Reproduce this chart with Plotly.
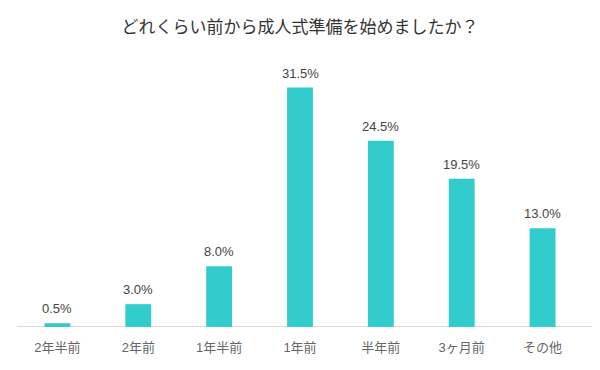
import plotly.graph_objects as go

categories = ["2年半前", "2年前", "1年半前", "1年前", "半年前", "3ヶ月前", "その他"]
values = [0.5, 3.0, 8.0, 31.5, 24.5, 19.5, 13.0]
labels = [f"{v:.1f}%" for v in values]

FONT = "Liberation Sans, Noto Sans CJK JP, sans-serif"

fig = go.Figure(go.Bar(
    x=categories, y=values,
    marker=dict(color="#33CCCC", line=dict(width=0)),
    hoverinfo="skip",
))
for c, v, t in zip(categories, values, labels):
    fig.add_annotation(x=c, y=v, text=t, showarrow=False, yanchor="bottom", yshift=5,
                       font=dict(size=13, color="#444444", family=FONT))
fig.update_layout(
    width=600, height=370,
    margin=dict(l=17, r=17, t=61, b=43),
    paper_bgcolor="white", plot_bgcolor="white",
    font=dict(family=FONT, color="#555555"),
    title=dict(text="どれくらい前から成人式準備を始めましたか？", x=0.5, xanchor="center",
               y=1 - 27 / 370, yanchor="middle",
               font=dict(size=17, color="#333333", family="Noto Sans CJK JP, sans-serif")),
    bargap=0.68, showlegend=False,
    shapes=[dict(type="line", xref="paper", yref="y", x0=0, x1=1.016, y0=0, y1=0,
                 line=dict(color="#cccccc", width=1.5), layer="below")],
)
fig.update_xaxes(showline=False, ticks="", ticklabelstandoff=11,
                 tickfont=dict(size=13, color="#666666", family=FONT))
fig.update_yaxes(range=[0, 35], visible=False, showgrid=False, zeroline=False)
fig.write_html("out.html", config={"displayModeBar": False},
               post_script="document.body.style.margin='0';document.body.style.overflow='hidden';")
